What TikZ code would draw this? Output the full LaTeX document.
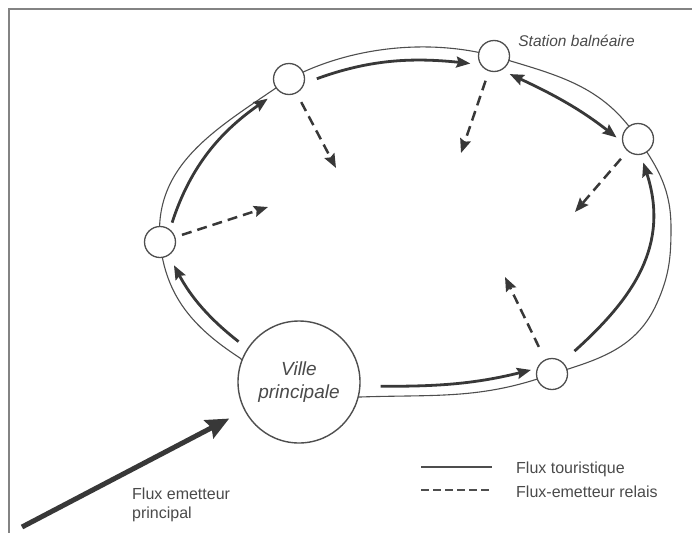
\documentclass[tikz,border=0pt]{standalone}
\usepackage{fontspec}
\setmainfont{Liberation Sans}
\usetikzlibrary{arrows.meta,positioning}

\definecolor{trait}{HTML}{4E4E4E}
\definecolor{fleche}{HTML}{383838}
\definecolor{texte}{HTML}{4A4A4A}

\tikzset{
  pointe/.tip={Stealth[length=14pt,width=11pt,inset=2pt]},
  etape/.style={circle,draw=trait,line width=1.3pt,fill=white,minimum size=31pt,inner sep=0pt},
  ville/.style={circle,draw=trait,line width=1.4pt,fill=white,minimum size=122pt,inner sep=0pt,
    align=center,text=texte,font=\fontsize{19}{23}\selectfont\itshape},
  anneau/.style={draw=trait,line width=1.1pt},
  flux/.style={draw=fleche,line width=2.8pt,-pointe},
  relais/.style={draw=fleche,line width=2.5pt,dash pattern=on 10pt off 6pt,-pointe},
  principal/.style={draw=fleche,line width=5pt,-{Stealth[length=23pt,width=20pt,inset=3pt]}},
  legende/.style={text=texte,font=\fontsize{16}{19}\selectfont,inner sep=0pt,align=left},
}

\begin{document}
\begin{tikzpicture}[x=1pt,y=1pt]
\useasboundingbox (0,0) rectangle (692,-533);
% Cadre
\draw[trait!70,line width=1.2pt] (692,-9) -- (9,-9) -- (9,-533);
% Anneau
\draw[anneau] (160,-242) to[out=95,in=215] (289,-79) to[out=28,in=165,looseness=.85] (494,-56)
  to[out=-17,in=123] (638,-139) to[out=-55,in=90] (671,-228) to[out=-90,in=66] (657,-303)
  to[out=-114,in=17] (552,-374) to[out=200,in=2] (360,-397) to[out=182,in=-45] (240,-358)
  to[out=147,in=-84] cycle;
% Ville et stations
\node[ville] (ville) at (299,-382) {Ville\\principale};
\foreach \n/\x/\y in {n1/160/242, n2/289/79, n3/494/56, n4/638/139, n5/552/374}
  \node[etape] (\n) at (\x,-\y) {};
\node[legende,font=\fontsize{15.5}{19}\selectfont\itshape,right=8pt of n3,yshift=15.5pt] (sb) {Station balnéaire};
% Flux touristique
\draw[flux,shorten <=11pt,shorten >=11pt] (ville.147) to[out=142,in=-62] (n1.-57);
\draw[flux,shorten <=7pt,shorten >=13pt] (n1.52) to[out=72,in=215] (n2.-131);
\draw[flux,shorten <=13pt,shorten >=10pt] (n2.-15) to[out=20,in=174] (n3.212);
\draw[flux,pointe-pointe,shorten <=9pt,shorten >=7pt] (n3.-62) to[out=-25,in=142] (n4.190);
\draw[flux,shorten <=16pt,shorten >=8pt] (n5.49) to[out=42,in=-72,looseness=1.1] (n4.-80);
\draw[flux,shorten <=20pt,shorten >=6pt] (ville.-4) to[out=0,in=194] (n5.160);
% Flux-emetteur relais
\foreach \n/\x/\y/\s in {n1/268/207/7pt, n2/336/168/10pt, n3/461/153/10pt, n4/575/212/10pt, n5/505/277/14pt} {
  \coordinate (r\n) at (\x,-\y);
  \draw[relais,shorten <=\s] (\n) -- (r\n);
}
% Flux emetteur principal
\coordinate (src) at (22,-527);
\draw[principal,shorten >=17pt] (src) -- (ville);
\node[legende,anchor=north west] (fe) at (132,-488) {Flux emetteur\\principal};
% Legende
\node[legende,anchor=base west] (lt) at (516,-473) {Flux touristique};
\node[legende,anchor=base west] (lr) at (516,-497) {Flux-emetteur relais};
\draw[trait,line width=2.2pt] (421,-467) -- (492,-467);
\draw[trait,line width=2.2pt,dash pattern=on 8pt off 4pt] (421,-490) -- (492,-490);
\end{tikzpicture}
\end{document}
